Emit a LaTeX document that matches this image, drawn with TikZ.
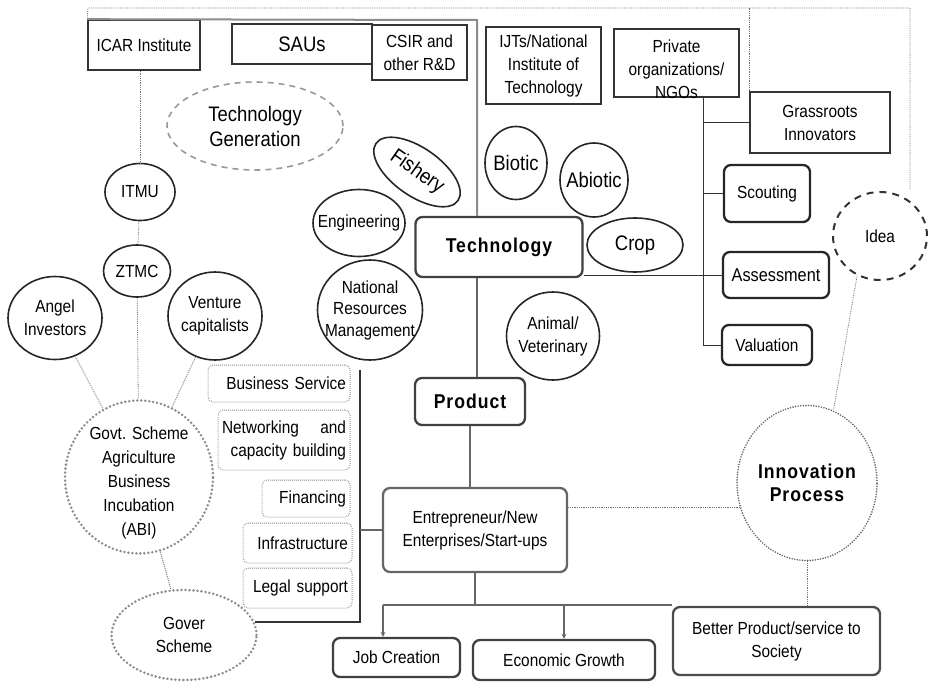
\documentclass[tikz,border=0pt]{standalone}
\usepackage{fontspec}
\setmainfont{Liberation Sans}[FakeStretch=0.88]
\usetikzlibrary{%
	shapes,%
	arrows,%
	calc%
}

\tikzset{
	inst/.style={draw=black!80, line width=1.6pt, align=center},
	stage/.style={draw=black!75, line width=2.3pt, rounded corners=7pt, align=center},
	field/.style={ellipse, draw=black!85, line width=1.6pt, inner sep=0pt},
	service/.style={draw=black!45, line width=1pt, dash pattern=on 0.8pt off 1.2pt, rounded corners=5pt, align=right, inner xsep=4pt, inner ysep=0pt},
	scheme/.style={ellipse, draw=black!45, line width=2.8pt, dash pattern=on 0pt off 4pt, line cap=round, inner sep=0pt},
	link/.style={draw=black!55, densely dotted, line width=0.8pt},
	spine/.style={draw=black!60, line width=2pt},
	heavy/.style={font={\fontsize{20}{24}\selectfont\bfseries\addfontfeatures{LetterSpace=5}}},
	big/.style={font=\fontsize{21}{25}\selectfont}
}

\begin{document}
\begin{tikzpicture}[x=1pt, y=-1pt, font=\fontsize{17.5}{23}\selectfont, >=stealth]
	\useasboundingbox (0,0) rectangle (929,683);

	% where technology comes from
	\node[inst, minimum width=112pt, minimum height=50pt] (icar) at (144,45) {ICAR Institute};
	\node[inst, big, minimum width=140pt, minimum height=40pt] (sau) at (302,44) {SAUs};
	\node[inst, minimum width=95pt, minimum height=55pt] (csir) at (419.5,52.5) {CSIR and\\other R\&D};
	\node[inst, minimum width=115pt, minimum height=77pt] (ijt) at (543.5,65.5) {IJTs/National\\Institute of\\Technology};
	\node[inst, minimum width=125pt, minimum height=68pt, label={[align=center, yshift=-6pt]center:Private\\organizations/\\NGOs}] (priv) at (676.5,63) {};
	\node[inst, minimum width=140pt, minimum height=61pt] (grass) at (820,122.5) {Grassroots\\Innovators};

	\node[ellipse, draw=black!40, line width=1.6pt, dash pattern=on 6pt off 5pt, minimum width=176pt, minimum height=88pt, inner sep=0pt, label={[big, align=center]center:Technology\\Generation}] (tgen) at (255,126) {};

	% fields
	\node[field, rotate=-35, minimum width=100pt, minimum height=48pt, label={[big, rotate=-35]center:Fishery}] (fish) at (417,172) {};
	\node[field, minimum width=92pt, minimum height=67pt, label=center:Engineering] (eng) at (359,223) {};
	\node[field, minimum width=105pt, minimum height=100pt, label={[align=center, font=\fontsize{17.5}{21.5}\selectfont]center:National\\Resources\\Management}] (nrm) at (370,310) {};
	\node[field, minimum width=62pt, minimum height=73pt, label={[big]center:Biotic}] (biotic) at (516,163) {};
	\node[field, minimum width=68pt, minimum height=74pt, label={[big]center:Abiotic}] (abiotic) at (594,180) {};
	\node[field, minimum width=96pt, minimum height=54pt, label={[big]center:Crop}] (crop) at (635,245) {};
	\node[field, minimum width=93pt, minimum height=88pt, label={[align=center]center:Animal/\\Veterinary}] (animal) at (553,336) {};

	% main chain
	\node[stage, heavy, minimum width=167pt, minimum height=60pt] (tech) at (499,247) {Technology};
	\node[stage, heavy, minimum width=110pt, minimum height=47pt] (prod) at (470,401.5) {Product};
	\node[stage, draw=black!60, minimum width=184pt, minimum height=84pt] (ent) at (475,530) {Entrepreneur/New\\Enterprises/Start-ups};

	% technology transfer steps
	\node[stage, draw=black!85, minimum width=86pt, minimum height=57pt] (scout) at (767,193.5) {Scouting};
	\node[stage, draw=black!85, minimum width=106pt, minimum height=46pt, font=\fontsize{18.5}{23}\selectfont] (assess) at (776,275) {Assessment};
	\node[stage, draw=black!85, minimum width=90pt, minimum height=40pt] (valu) at (767,345) {Valuation};
	\node[ellipse, draw=black!80, line width=2pt, dash pattern=on 7pt off 6pt, minimum width=94pt, minimum height=88pt, inner sep=0pt, label=center:Idea] (idea) at (880,236) {};
	\node[ellipse, draw=black!60, line width=1.8pt, dash pattern=on 0pt off 2.6pt, line cap=round, minimum width=140pt, minimum height=155pt, inner sep=0pt, label={[align=center, font={\fontsize{20}{23}\selectfont\bfseries\addfontfeatures{LetterSpace=5}}]center:Innovation\\Process}] (innov) at (807,483) {};

	% incubation side
	\node[field, minimum width=70pt, minimum height=57pt, label=center:ITMU] (itmu) at (140,192) {};
	\node[field, minimum width=67pt, minimum height=52pt, label=center:ZTMC] (ztmc) at (137,271) {};
	\node[field, minimum width=94pt, minimum height=83pt, label={[align=center]center:Angel\\Investors}] (angel) at (55,318) {};
	\node[field, minimum width=94pt, minimum height=88pt, label={[align=center]center:Venture\\capitalists}] (venture) at (215,316) {};
	\node[scheme, minimum width=148pt, minimum height=153pt, label={[align=center, font=\fontsize{17.5}{24}\selectfont, yshift=-6pt]center:Govt. Scheme\\Agriculture\\Business\\Incubation\\(ABI)}] (abi) at (139,477) {};
	\node[scheme, minimum width=145pt, minimum height=90pt, label={[align=center]center:Gover\\Scheme}] (gover) at (184,635) {};

	\node[service, text width=134pt, minimum height=37pt] (busi) at (279,383.5) {Business Service};
	\node[service, text width=124pt, minimum height=60pt] (netw) at (284,440) {Networking\hfill and\\capacity building};
	\node[service, text width=80pt, minimum height=37pt] (fin) at (306,498.5) {Financing};
	\node[service, text width=101pt, minimum height=40pt] (infra) at (297.5,543) {Infrastructure};
	\node[service, text width=101pt, minimum height=40pt] (legal) at (297.5,588) {Legal support};

	% outcomes
	\node[stage, draw=black!75, minimum width=127pt, minimum height=39pt] (job) at (396.5,657.5) {Job Creation};
	\node[stage, draw=black!75, minimum width=182pt, minimum height=40pt] (econ) at (564,660) {Economic Growth};
	\node[stage, draw=black!70, minimum width=207pt, minimum height=68pt] (better) at (776.5,641) {Better Product/service to\\Society};

	% frame over the sources
	\coordinate (ftl) at (88,8);
	\coordinate (ftr) at (910,8);
	\coordinate (fend) at (910,190);
	\draw[link] (icar.north west) -- (ftl) -- (ftr) -- (fend);
	\draw[link] (grass.north west) -- (grass.north west |- ftl);

	% spine down to the product
	\coordinate (top) at (477,20);
	\draw[spine, draw=black!45] (icar.north west) -- (top) -- (top |- tech.north);
	\draw[spine] (top |- tech.south) -- (top |- prod.north);
	\draw[spine] (prod.south) -- (prod.south |- ent.north);

	% private branch
	\coordinate (pv) at (703,97);
	\draw[black!80, line width=1pt] (pv) -- (pv |- valu.west) -- (valu.west);
	\draw[black!80, line width=1pt] (pv |- grass.west) -- (grass.west);
	\draw[black!80, line width=1pt] (pv |- scout.west) -- (scout.west);
	\draw[black!80, line width=1pt] (tech.east |- assess.west) -- (assess.west);

	% incubation links
	\draw[link] (icar.south -| itmu.north) -- (itmu.north);
	\draw[link] (itmu) -- (ztmc);
	\draw[link] (ztmc) -- (abi);
	\draw[link, draw=black!30, line width=1.3pt] (angel) -- (abi);
	\draw[link, draw=black!40, line width=1.1pt] (venture) -- (abi);
	\draw[link, draw=black!45, line width=1.1pt] (abi) -- (gover);

	\coordinate (sbar) at (360,370);
	\draw[spine, draw=black!80] (sbar) -- (sbar |- gover.10) -- (gover.10);
	\draw[spine] (sbar |- ent.west) -- (ent.west);

	% innovation process
	\draw[link] (ent.east |- innov.200) -- (innov.200);
	\draw[link] (idea.240) -- (innov.70);
	\draw[link] (innov.south) -- (innov.south |- better.north);

	% outcomes bar
	\coordinate (obar) at (383,605);
	\draw[spine] (ent.south) -- (ent.south |- obar);
	\draw[spine] (obar) -- (obar -| better.west);
	\draw[black!60, line width=1.2pt, ->] (obar) -- (obar |- job.north);
	\draw[black!60, line width=1.2pt, ->] (econ.north |- obar) -- (econ.north);

\end{tikzpicture}
\end{document}
